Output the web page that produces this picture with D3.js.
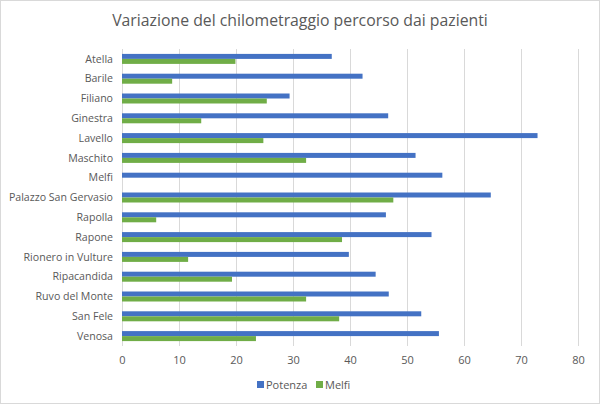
<!DOCTYPE html>
<html>
<head>
<meta charset="utf-8">
<title>Variazione del chilometraggio</title>
<script src="https://cdn.jsdelivr.net/npm/d3@7"></script>
<style>
  body { margin: 0; background: #fff; }
  text { font-family: "Open Sans", "Liberation Sans", sans-serif; fill: #595959; }
</style>
</head>
<body>
<div id="chart"></div>
<script>
var comuni = ["Atella", "Barile", "Filiano", "Ginestra", "Lavello", "Maschito", "Melfi",
  "Palazzo San Gervasio", "Rapolla", "Rapone", "Rionero in Vulture", "Ripacandida",
  "Ruvo del Monte", "San Fele", "Venosa"];
var potenza = [36.8, 42.2, 29.4, 46.7, 72.9, 51.5, 56.2, 64.7, 46.3, 54.3, 39.8, 44.5, 46.8, 52.5, 55.6];
var melfi = [19.9, 8.8, 25.4, 13.9, 24.8, 32.3, 0, 47.6, 6.0, 38.6, 11.6, 19.3, 32.3, 38.1, 23.5];
var serie = ["Potenza", "Melfi"];
var colori = ["#4472C4", "#70AD47"];
var ticks = [0, 10, 20, 30, 40, 50, 60, 70, 80];

var width = 600, height = 404;
var margin = {top: 49, right: 22, bottom: 58, left: 122};

var svg = d3.select("#chart").append("svg")
    .attr("width", width)
    .attr("height", height);

svg.append("rect")
    .attr("x", 0.5).attr("y", 0.5)
    .attr("width", width - 1).attr("height", height - 1)
    .style("fill", "#fff")
    .style("stroke", "#d9d9d9");

svg.append("text")
    .attr("x", width / 2)
    .attr("y", 26)
    .attr("text-anchor", "middle")
    .style("font-size", "15.8px")
    .text("Variazione del chilometraggio percorso dai pazienti");

var x = d3.scaleLinear().domain([0, 80]).range([margin.left, width - margin.right]);
var y = d3.scaleBand().domain(comuni).range([margin.top, height - margin.bottom]);
var ySub = d3.scaleBand().domain(serie).range([0, 10]);

// griglia verticale
svg.selectAll(".grid")
    .data(ticks)
  .enter().append("line")
    .attr("class", "grid")
    .attr("x1", function(d) { return x(d) + 0.5; })
    .attr("x2", function(d) { return x(d) + 0.5; })
    .attr("y1", margin.top)
    .attr("y2", height - margin.bottom)
    .style("stroke", "#d9d9d9")
    .style("stroke-width", 1);

var gruppi = svg.selectAll(".gruppo")
    .data(comuni)
  .enter().append("g")
    .attr("class", "gruppo")
    .attr("transform", function(d) {
      return "translate(0," + (y(d) + y.bandwidth() / 2 - 5) + ")";
    });

gruppi.selectAll("rect")
    .data(function(d, i) { return [potenza[i], melfi[i]]; })
  .enter().append("rect")
    .attr("x", x(0))
    .attr("y", function(d, j) { return ySub(serie[j]); })
    .attr("width", function(d) { return x(d) - x(0); })
    .attr("height", ySub.bandwidth())
    .style("fill", function(d, j) { return colori[j]; });

// etichette categorie
svg.selectAll(".cat")
    .data(comuni)
  .enter().append("text")
    .attr("class", "cat")
    .attr("x", margin.left - 9)
    .attr("y", function(d) { return y(d) + y.bandwidth() / 2; })
    .attr("dy", "0.35em")
    .attr("text-anchor", "end")
    .style("font-size", "10.6px")
    .text(function(d) { return d; });

// asse x
var xAxis = svg.append("g")
    .attr("transform", "translate(0," + (height - margin.bottom) + ")")
    .call(d3.axisBottom(x).tickValues(ticks).tickSize(0).tickPadding(10));
xAxis.select(".domain").remove();
xAxis.selectAll("text")
    .style("font-size", "11px")
    .style("fill", "#595959");

// legenda
var legenda = svg.append("g").attr("transform", "translate(257,385)");
var lx = [0, 59];
legenda.selectAll("rect")
    .data(serie)
  .enter().append("rect")
    .attr("x", function(d, i) { return lx[i]; })
    .attr("y", -4)
    .attr("width", 7).attr("height", 7)
    .style("fill", function(d, i) { return colori[i]; });
legenda.selectAll("text")
    .data(serie)
  .enter().append("text")
    .attr("x", function(d, i) { return lx[i] + 9; })
    .attr("y", 0)
    .attr("dy", "0.35em")
    .style("font-size", "11px")
    .text(function(d) { return d; });
</script>
</body>
</html>
